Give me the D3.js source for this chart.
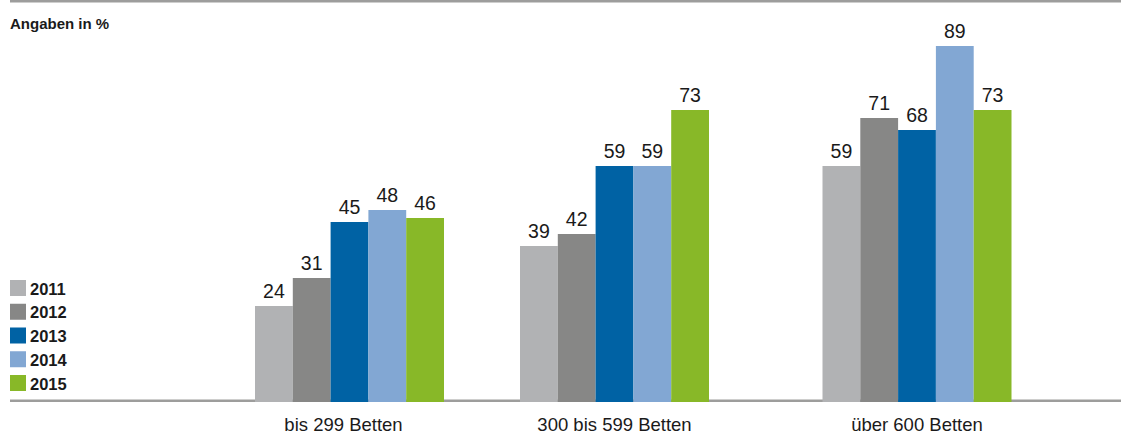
<!DOCTYPE html>
<html>
<head>
<meta charset="utf-8">
<script src="https://cdn.jsdelivr.net/npm/d3@7"></script>
<style>
  html, body { margin: 0; padding: 0; background: #fff; }
  svg { display: block; }
</style>
</head>
<body>
<svg id="chart" width="1121" height="435"></svg>
<script>
// Bettenklassen und Erhebungsjahre
const categories = ["bis 299 Betten", "300 bis 599 Betten", "über 600 Betten"];
const years = ["2011", "2012", "2013", "2014", "2015"];
const values2011 = [24, 39, 59];
const values2012 = [31, 42, 71];
const values2013 = [45, 59, 68];
const values2014 = [48, 59, 89];
const values2015 = [46, 73, 73];
const yearColors = ["#b1b2b4", "#878786", "#0062a4", "#82a7d3", "#88b828"];
const unitLabel = "Angaben in %";

const series = [values2011, values2012, values2013, values2014, values2015];

const svg = d3.select("#chart");
const W = 1121;

// Gruppen-Mittelpunkte der drei Bettenklassen
const x0 = d3.scaleOrdinal().domain(categories).range([349.5, 614.5, 917]);
const groupWidth = 189;
const x1 = d3.scaleBand().domain(years).range([-groupWidth / 2, groupWidth / 2]).padding(0);
const y = d3.scaleLinear().domain([0, 100]).range([402, 2]);
const color = d3.scaleOrdinal().domain(years).range(yearColors);

// Linie oben
svg.append("line")
  .attr("x1", 10).attr("x2", W)
  .attr("y1", 1.2).attr("y2", 1.2)
  .attr("stroke", "#9d9d9c").attr("stroke-width", 2.5);

// Einheit
svg.append("text")
  .attr("x", 10).attr("y", 29)
  .attr("font-family", "Liberation Sans, Arial, sans-serif")
  .attr("font-weight", "bold")
  .attr("font-size", 15)
  .attr("fill", "#1a1a1a")
  .text(unitLabel);

// Grundlinie
svg.append("line")
  .attr("x1", 10).attr("x2", W)
  .attr("y1", 400.7).attr("y2", 400.7)
  .attr("stroke", "#9d9d9c").attr("stroke-width", 2.5);

const rows = [];
categories.forEach((c, ci) => {
  years.forEach((yr, si) => {
    rows.push({ category: c, year: yr, value: series[si][ci] });
  });
});

const bars = svg.append("g");
bars.selectAll("rect")
  .data(rows)
  .join("rect")
  .attr("x", d => x0(d.category) + x1(d.year))
  .attr("width", x1.bandwidth())
  .attr("y", d => y(d.value))
  .attr("height", d => y(0) - y(d.value))
  .attr("fill", d => color(d.year));

// Werte über den Balken
bars.selectAll("text")
  .data(rows)
  .join("text")
  .attr("x", d => x0(d.category) + x1(d.year) + x1.bandwidth() / 2)
  .attr("y", d => y(d.value) - 8)
  .attr("text-anchor", "middle")
  .attr("font-family", "Liberation Sans, Arial, sans-serif")
  .attr("font-size", 19.5)
  .attr("fill", "#1a1a1a")
  .text(d => d.value);

// Kategorienbeschriftung
const xAxis = svg.append("g");
xAxis.selectAll("text")
  .data(categories)
  .join("text")
  .attr("x", d => x0(d) - (d === categories[0] ? 6 : 0))
  .attr("y", 431)
  .attr("text-anchor", "middle")
  .attr("font-family", "Liberation Sans, Arial, sans-serif")
  .attr("font-size", 18.5)
  .attr("fill", "#1a1a1a")
  .text(d => d);

// Legende
const legendY = d3.scalePoint().domain(years).range([280, 375]);
const legend = svg.append("g");
const items = legend.selectAll("g")
  .data(years)
  .join("g")
  .attr("transform", d => `translate(10,${legendY(d)})`);
items.append("rect")
  .attr("width", 16).attr("height", 16)
  .attr("fill", d => color(d));
items.append("text")
  .attr("x", 20).attr("y", 14.5)
  .attr("font-family", "Liberation Sans, Arial, sans-serif")
  .attr("font-weight", "bold")
  .attr("font-size", 16.5)
  .attr("fill", "#1a1a1a")
  .text(d => d);
</script>
</body>
</html>
